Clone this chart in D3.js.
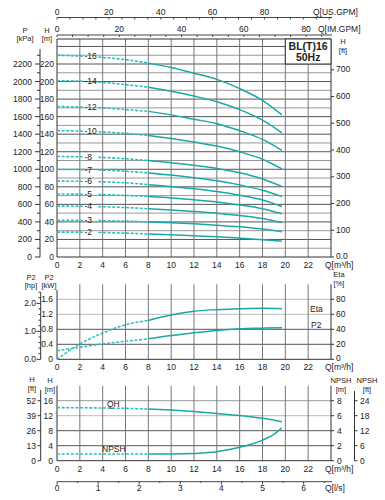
<!DOCTYPE html>
<html><head><meta charset="utf-8">
<script src="https://cdn.jsdelivr.net/npm/d3@7"></script>
<style>body{margin:0;background:#fff}svg{display:block;font-family:"Liberation Sans",Arial,sans-serif}</style>
</head><body><svg id="c" width="385" height="500"></svg>
<script>
// ---------- data ----------
const qKnots = [0,2,4,6,8,10,12,14,16,18,19.7];
const stageList = [16,14,12,10,8,7,6,5,4,3,2];
const head16 = [230,229,227.5,225,221,216,209.5,202.5,192,178.5,162];
const head14 = [201,200.5,199,196.5,193.5,189,183.5,177,168,156,141.5];
const head12 = [171.5,171,170,168,166,162,157,152,144,134,121.5];
const head10 = [144,143.5,142.5,141,138.5,135,131,126.5,120,111.5,100.5];
const head8  = [114.5,114.3,113.5,112,110,107.5,104.5,101,96,89,80.5];
const head7  = [99.8,99.6,99,97.8,95.8,93.4,90.4,86.9,82.2,76,69];
const head6  = [86.5,86.3,85.7,84.6,82.5,80.4,77.8,74.6,70.4,65,57.5];
const head5  = [71.8,71.6,71.1,70.2,68.9,67.3,65.2,62.8,59.4,55,49.2];
const head4  = [58,57.8,57.3,56.4,55,53.7,52,50,47.3,43.8,39.3];
const head3  = [41.8,41.7,41.4,40.9,40,39,37.8,36.3,34.4,31.8,28.7];
const head2  = [28.4,28.3,27.9,27.2,26.2,25.3,24.2,23,21.5,19.8,18];
const headSets = [head16,head14,head12,head10,head8,head7,head6,head5,head4,head3,head2];

const p2kW   = [0.23,0.32,0.41,0.48,0.545,0.635,0.705,0.77,0.813,0.83,0.84];
const etaPct = [0,20.5,35,46,51.8,59,64,66.2,67.5,68,67.5];
const qhOne  = [14.15,14.12,14.05,13.95,13.8,13.5,13.1,12.6,12.05,11.3,10.4];
const npshQ  = [0,2,4,6,8,10,12,13,14,15,16,17,18,19,19.7];
const npshM  = [0.9,0.9,0.9,0.9,0.9,0.9,0.95,1.05,1.2,1.45,1.78,2.2,2.75,3.5,4.4];

const qTicks   = [0,2,4,6,8,10,12,14,16,18,20,22];
const hTicksTop= [0,20,40,60,80,100,120,140,160,180,200,220];
const kPaTicks = [0,200,400,600,800,1000,1200,1400,1600,1800,2000,2200];
const ftTicksTop=[0,100,200,300,400,500,600,700];
const usTicks  = [0,20,40,60,80];
const imTicks  = [0,20,40,60,80];
const kWTicks  = [0,0.4,0.8,1.2,1.6];
const hpTicks  = [0,1,2];
const etaTicks = [0,20,40,60,80];
const hTicksBot= [0,4,8,12,16];
const ftTicksBot=[0,13,26,39,52];
const npshMTicks=[0,2,4,6,8];
const npshFtTicks=[0,6,12,18,24];
const lsTicks  = [0,1,2,3,4,5,6];

// ---------- setup ----------
const svg = d3.select("#c");
const TEAL = "#1aa8a6", TEALD = "#2bc0c2";
const x = d3.scaleLinear().domain([0,24]).range([57,331]);
const X0 = 57, X1 = 331;
const fs = 8.5, hs = 7.5;

function txt(g, xx, yy, s, anchor, size, weight){
  return g.append("text").attr("x",xx).attr("y",yy).attr("text-anchor",anchor||"start")
    .attr("font-size",size||fs).attr("fill","#222").attr("font-weight",weight||"normal").text(s);
}
function hline(y, x0, x1, col, w){ svg.append("line").attr("x1",x0).attr("x2",x1).attr("y1",y).attr("y2",y).attr("stroke",col).attr("stroke-width",w||1); }
function vline(xx, y0, y1, col, w){ svg.append("line").attr("x1",xx).attr("x2",xx).attr("y1",y0).attr("y2",y1).attr("stroke",col).attr("stroke-width",w||1); }
function header(xx, y, a, b){ txt(svg, xx, y, a, "middle", hs); txt(svg, xx, y+8.6, b, "middle", hs); }

// ---------- top flow axes (US / IM GPM) ----------
const US = 0.22712, IM = 0.27277;
hline(17.5, X0, X1+1, "#444");
for(let g=0; g*US<=24; g+=5) vline(x(g*US), 17.5, 19.5, "#444");
usTicks.forEach(t=>txt(svg, x(t*US), 14.5, t, "middle"));
txt(svg, 313, 14.5, "Q[US.GPM]");
hline(35, X0, X1+1, "#444");
for(let g=0; g*IM<=24; g+=5) vline(x(g*IM), 35, 37, "#444");
imTicks.forEach(t=>txt(svg, x(t*IM), 32, t, "middle"));
txt(svg, 318, 32, "Q[IM.GPM]");

// ---------- top panel ----------
const yT = d3.scaleLinear().domain([0,220]).range([257,64]);
const TT = 39, TB = 257;
for(let h=10; h<=240; h+=10) hline(yT(h), X0, X1, h%20===0 ? "#555" : "#999");
qTicks.slice(1).forEach(q=>{ vline(x(q), q>=22 ? 64 : TT, TB, "#777"); });
hline(TT, X0, X1, "#333"); hline(TB, X0, X1, "#333");
vline(X0, TT, TB, "#333"); vline(X1, TT, TB, "#333");

// legend box
svg.append("rect").attr("x",x(20)).attr("y",TT).attr("width",x(24)-x(20)).attr("height",yT(220)-TT)
  .attr("fill","#fff").attr("stroke","#333");
txt(svg, (x(20)+x(24))/2, 50, "BL(T)16", "middle", 10.5, "bold");
txt(svg, (x(20)+x(24))/2, 61, "50Hz", "middle", 10.5, "bold");

// left axes
const kPa = d3.scaleLinear().domain([0,2200]).range([yT(0),yT(220)]);
vline(40, 49, TB, "#333");
for(let p=0; p<=2350; p+=100) hline(kPa(p), p%200===0?35:37, 40, "#333");
kPaTicks.forEach(p=>txt(svg, 32, kPa(p)+3, p, "end"));
hTicksTop.forEach(h=>txt(svg, 54, yT(h)+3, h, "end"));
header(25, 32.5, "P", "[kPa]");
header(47, 32.5, "H", "[m]");
// right ft axis
const ftT = d3.scaleLinear().domain([0,700]).range([yT(0), yT(700*0.3048)]);
ftTicksTop.forEach(f=>{ hline(ftT(f), X1, X1+3, "#333"); txt(svg, 336, ftT(f)+(f===0?1.5:2.5), f===0?"0.0":f); });
header(343, 44, "H", "[ft]");
qTicks.forEach(q=>txt(svg, x(q), 267.5, q, "middle"));
txt(svg, 325, 267.5, "Q[m³/h]");

// curves
const defs = svg.append("defs");
const cp = defs.append("clipPath").attr("id","dashclip");
cp.append("rect").attr("x",X0).attr("y",0).attr("width",x(2.25)-X0).attr("height",500);
cp.append("rect").attr("x",x(3.55)).attr("y",0).attr("width",x(8.05)-x(3.55)).attr("height",500);

function drawCurve(qs, vs, ys, split, clip){
  const pts = qs.map((q,i)=>[q,vs[i]]);
  const ln = d3.line().x(d=>x(d[0])).y(d=>ys(d[1])).curve(d3.curveMonotoneX);
  const dashPts = pts.filter(d=>d[0]<=split);
  const solidPts = pts.filter(d=>d[0]>=split);
  const p = svg.append("path").attr("d",ln(dashPts)).attr("fill","none").attr("stroke",TEALD)
    .attr("stroke-width",1.6).attr("stroke-dasharray","3,1.6");
  if(clip) p.attr("clip-path","url(#dashclip)");
  svg.append("path").attr("d",ln(solidPts)).attr("fill","none").attr("stroke",TEAL).attr("stroke-width",1.5);
}
stageList.forEach((s,i)=>{
  drawCurve(qKnots, headSets[i], yT, 8, true);
  txt(svg, x(2.4), yT(headSets[i][1])+3, "-"+s, "start", 8.5);
});

// ---------- middle panel ----------
const yM = d3.scaleLinear().domain([0,1.6]).range([359.3,299.3]);
const MT = yM(2.0), MB = yM(0);
[[0.4,"#555"],[0.8,"#555"],[1.2,"#bbb"],[1.6,"#bbb"]].forEach(d=>hline(yM(d[0]), X0, X1, d[1]));
qTicks.slice(1).forEach(q=>vline(x(q), MT, MB, "#777"));
hline(MB, X0, X1, "#333"); vline(X0, yM(1.85), MB, "#333"); vline(X1, MT, MB, "#333");
const hp = d3.scaleLinear().domain([0,1]).range([yM(0), yM(0.7457)]);
vline(40.7, hp(2.4), MB, "#333");
for(let h=0; h<=2.41; h+=0.2) hline(hp(h), Math.abs(h-Math.round(h))<0.01?36.5:38.5, 40.7, "#333");
hpTicks.forEach(h=>txt(svg, 36, hp(h)+3, h.toFixed(1), "end"));
kWTicks.forEach(k=>txt(svg, 53, yM(k)+3, k===0?"0":k.toFixed(1), "end"));
header(31, 279.5, "P2", "[hp]");
header(49, 279.5, "P2", "[kW]");
const yEta = d3.scaleLinear().domain([0,80]).range([yM(0), yM(1.6)]);
etaTicks.forEach(e=>{ hline(yEta(e), X1, X1+3, "#333"); txt(svg, 336, yEta(e)+(e===0?1.5:2.5), e); });
header(339, 277, "Eta", "[%]");
qTicks.forEach(q=>txt(svg, x(q), 370, q, "middle"));
txt(svg, 325, 370, "Q[m³/h]");
drawCurve(qKnots, p2kW, yM, 8, false);
drawCurve(qKnots, etaPct, yEta, 8, false);
txt(svg, 310, 312, "Eta", "start", 8.5);
txt(svg, 311, 328, "P2", "start", 8.5);

// ---------- bottom panel ----------
const yB = d3.scaleLinear().domain([0,16]).range([460.7,400.7]);
const BT = yB(20), BB = yB(0);
[[4,"#555"],[8,"#555"],[12,"#bbb"],[16,"#999"]].forEach(d=>hline(yB(d[0]), X0, X1, d[1]));
qTicks.slice(1).forEach(q=>vline(x(q), BT, BB, "#777"));
hline(BB, X0, X1, "#333"); vline(X0, BT, BB, "#333"); vline(X1, BT, BB, "#333");
const ftB = d3.scaleLinear().domain([0,52]).range([yB(0), yB(16)]);
vline(40.7, 390, BB, "#333");
ftTicksBot.forEach(f=>{ hline(ftB(f), 37.5, 40.7, "#333"); txt(svg, 36, ftB(f)+3, f, "end"); });
hTicksBot.forEach(h=>txt(svg, 53, yB(h)+3, h, "end"));
header(32, 382, "H", "[ft]");
header(50, 383, "H", "[m]");
const yN = d3.scaleLinear().domain([0,8]).range([yB(0), yB(16)]);
npshMTicks.forEach(n=>{ hline(yN(n), X1, X1+3, "#333"); txt(svg, 337, yN(n)+3, n); });
const yNft = d3.scaleLinear().domain([0,24]).range([yB(0), yB(16)]);
vline(354.5, 391, BB, "#333");
npshFtTicks.forEach(n=>{ hline(yNft(n), 354.5, 357.5, "#333"); txt(svg, 360, yNft(n)+3, n); });
header(341, 383, "NPSH", "[m]");
header(367, 383, "NPSH", "[ft]");
qTicks.forEach(q=>txt(svg, x(q), 472.3, q, "middle"));
txt(svg, 325, 472.3, "Q[m³/h]");
drawCurve(qKnots, qhOne, yB, 8, false);
drawCurve(npshQ, npshM, yN, 8, false);
txt(svg, 107, 407, "QH", "start", 8.5);
txt(svg, 102, 452, "NPSH", "start", 8.5);

// l/s axis
hline(481.7, X0, X1+1, "#444");
for(let l=0; l*3.6<=24; l+=0.5) vline(x(l*3.6), 481.7, Number.isInteger(l)?484.5:483, "#444");
lsTicks.forEach(l=>txt(svg, x(l*3.6), 491, l, "middle"));
txt(svg, 325, 491, "Q[l/s]");
</script></body></html>
